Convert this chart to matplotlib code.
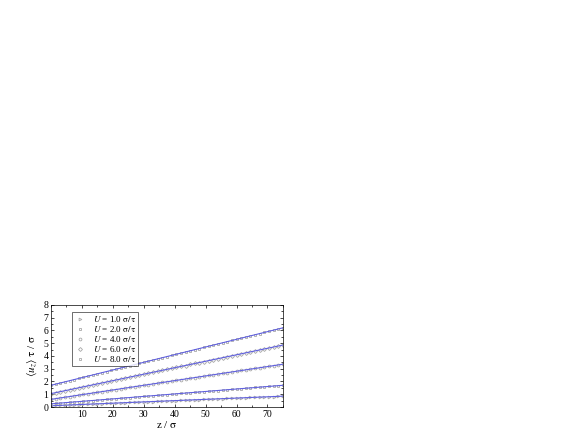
import matplotlib
matplotlib.use('Agg')
import matplotlib.pyplot as plt
from matplotlib.ticker import MultipleLocator

plt.rcParams['font.family'] = ['Liberation Serif', 'DejaVu Serif']
plt.rcParams['mathtext.fontset'] = 'stix'

# profils de vitesse <u_z> tau / sigma en fonction de z / sigma
z = [0, 1.5, 3, 4.5, 6, 7.5, 9, 10.5, 12, 13.5, 15, 16.5, 18, 19.5, 21, 22.5,
     24, 25.5, 27, 28.5, 30, 31.5, 33, 34.5, 36, 37.5, 39, 40.5, 42, 43.5, 45,
     46.5, 48, 49.5, 51, 52.5, 54, 55.5, 57, 58.5, 60, 61.5, 63, 64.5, 66,
     67.5, 69, 70.5, 72, 73.5, 75]

u1 = [0.10, 0.12, 0.13, 0.15, 0.16, 0.18, 0.19, 0.21, 0.22, 0.24, 0.25, 0.27,
      0.28, 0.30, 0.31, 0.33, 0.34, 0.36, 0.37, 0.39, 0.40, 0.42, 0.43, 0.45,
      0.46, 0.48, 0.49, 0.51, 0.52, 0.54, 0.55, 0.57, 0.58, 0.60, 0.61, 0.63,
      0.64, 0.66, 0.67, 0.69, 0.70, 0.72, 0.73, 0.75, 0.76, 0.78, 0.79, 0.81,
      0.82, 0.84, 0.85]
u2 = [0.25, 0.28, 0.31, 0.34, 0.37, 0.40, 0.42, 0.45, 0.48, 0.51, 0.54, 0.57,
      0.60, 0.63, 0.66, 0.69, 0.71, 0.74, 0.77, 0.80, 0.83, 0.86, 0.89, 0.92,
      0.95, 0.98, 1.00, 1.03, 1.06, 1.09, 1.12, 1.15, 1.18, 1.21, 1.24, 1.27,
      1.29, 1.32, 1.35, 1.38, 1.41, 1.44, 1.47, 1.50, 1.53, 1.56, 1.58, 1.61,
      1.64, 1.67, 1.70]
u4 = [0.60, 0.66, 0.71, 0.77, 0.82, 0.88, 0.93, 0.99, 1.04, 1.10, 1.15, 1.21,
      1.26, 1.32, 1.37, 1.43, 1.48, 1.54, 1.59, 1.65, 1.70, 1.76, 1.81, 1.87,
      1.92, 1.98, 2.03, 2.09, 2.14, 2.20, 2.25, 2.31, 2.36, 2.42, 2.47, 2.53,
      2.58, 2.64, 2.69, 2.75, 2.80, 2.86, 2.91, 2.97, 3.02, 3.08, 3.13, 3.19,
      3.24, 3.30, 3.35]
u6 = [1.05, 1.13, 1.21, 1.28, 1.35, 1.43, 1.51, 1.58, 1.66, 1.73, 1.81, 1.89,
      1.96, 2.04, 2.11, 2.19, 2.27, 2.34, 2.42, 2.49, 2.57, 2.65, 2.72, 2.80,
      2.87, 2.95, 3.03, 3.10, 3.18, 3.25, 3.33, 3.41, 3.48, 3.56, 3.63, 3.71,
      3.79, 3.86, 3.94, 4.01, 4.09, 4.17, 4.24, 4.32, 4.39, 4.47, 4.55, 4.62,
      4.70, 4.77, 4.85]
u8 = [1.70, 1.79, 1.88, 1.97, 2.06, 2.15, 2.24, 2.33, 2.42, 2.51, 2.60, 2.69,
      2.78, 2.87, 2.96, 3.05, 3.14, 3.23, 3.32, 3.41, 3.50, 3.59, 3.68, 3.77,
      3.86, 3.95, 4.04, 4.13, 4.22, 4.31, 4.40, 4.49, 4.58, 4.67, 4.76, 4.85,
      4.94, 5.03, 5.12, 5.21, 5.30, 5.39, 5.48, 5.57, 5.66, 5.75, 5.84, 5.93,
      6.02, 6.11, 6.20]

# ajustements lineaires (valeurs en z = 0 et z = 75)
fit_z = [0, 75]
fit_lo = [0.10, 0.25, 0.60, 1.05, 1.70]
fit_hi = [0.85, 1.70, 3.35, 4.85, 6.20]

labels = [r'$U$ = 1.0 $\mathrm{\sigma/\tau}$', r'$U$ = 2.0 $\mathrm{\sigma/\tau}$',
          r'$U$ = 4.0 $\mathrm{\sigma/\tau}$', r'$U$ = 6.0 $\mathrm{\sigma/\tau}$',
          r'$U$ = 8.0 $\mathrm{\sigma/\tau}$']
markers = ['>', 's', 'o', 'D', 's']

fig = plt.figure(figsize=(5.67, 4.33), dpi=100)
ax = fig.add_axes([0.090, 0.060, 0.409, 0.236])

for u, m, lab, lo, hi in zip([u1, u2, u4, u6, u8], markers, labels, fit_lo, fit_hi):
    ax.plot(z, u, ls='none', marker=m, ms=2.0, mfc='none', mec='#a8a8a8',
            mew=0.6, label=lab)
    ax.plot(fit_z, [lo, hi], color='#6060e0', lw=0.8)

ax.set_xlim(0, 75)
ax.set_ylim(0, 8)
ax.xaxis.set_minor_locator(MultipleLocator(5))
ax.yaxis.set_major_locator(MultipleLocator(1))
ax.yaxis.set_minor_locator(MultipleLocator(0.5))
ax.set_xticks([10, 20, 30, 40, 50, 60, 70])
ax.tick_params(which='both', direction='in', top=True, right=True,
               labelsize=7, width=0.5, pad=2)
ax.tick_params(which='major', length=2.5)
ax.tick_params(which='minor', length=1.5)
for s in ax.spines.values():
    s.set_linewidth(0.5)
ax.set_xlabel(r'z / $\mathrm{\sigma}$', fontsize=8, labelpad=0.5)
ax.set_ylabel(r'$\langle u_z \rangle$ $\mathrm{\tau}$ / $\mathrm{\sigma}$', fontsize=8, labelpad=3)

leg = ax.legend(loc='upper left', bbox_to_anchor=(0.09, 0.93), fontsize=6.5,
                frameon=True, fancybox=False, edgecolor='black',
                handlelength=1.2, handletextpad=0.9, labelspacing=0.0,
                borderpad=0.25, borderaxespad=0)
leg.get_frame().set_linewidth(0.5)

fig.savefig('out.png', dpi=100)
